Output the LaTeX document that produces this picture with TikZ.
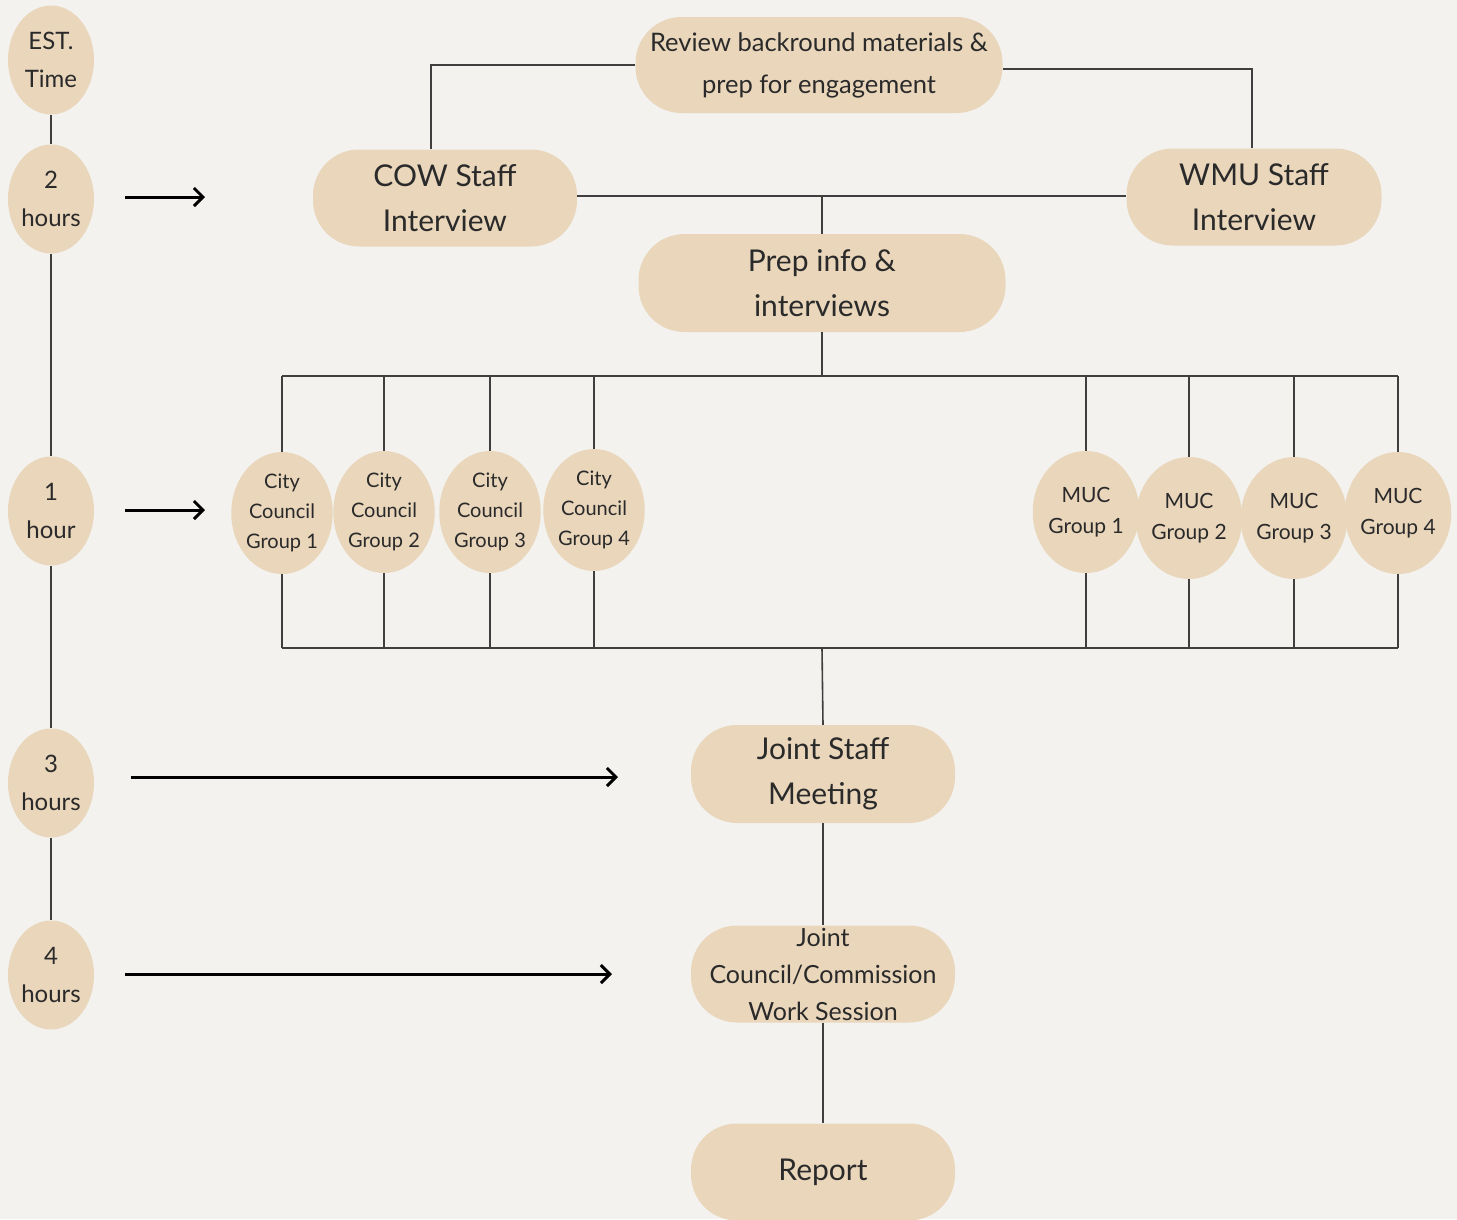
\documentclass[tikz,border=0pt]{standalone}
\usepackage{fontspec}
\setmainfont{Lato}
\usepackage{tikz}
\usetikzlibrary{positioning,arrows,arrows.meta,shapes.geometric,calc}
\definecolor{sand}{HTML}{E9D6BB}
\definecolor{paper}{HTML}{F3F2EE}
\definecolor{ink}{HTML}{2A2A2A}

\begin{document}
\begin{tikzpicture}
	[x=1pt,y=-1pt,
	pill/.style={rectangle,rounded corners=46pt,fill=sand,draw=none,align=center,text=ink,inner sep=0pt},
	oval/.style={ellipse,fill=sand,draw=none,align=center,text=ink,inner sep=0pt},
	timeoval/.style={oval,minimum width=86pt,minimum height=109pt,font=\fontsize{24}{38}\selectfont},
	groupoval/.style={oval,minimum width=98pt,minimum height=122pt,font=\fontsize{20}{30}\selectfont},
	link/.style={draw=ink!90,line width=1.6pt},
	timearrow/.style={-{Straight Barb[length=9pt,width=18pt,line width=3pt]},draw=black,line width=3pt}]
	\useasboundingbox[fill=paper] (0,0) rectangle (1457,1219);
	%TIME COLUMN
	\node[timeoval] (t0) at (51,60) {EST.\\Time};
	\node[timeoval] (t1) at (51,199) {2\\hours};
	\node[timeoval] (t2) at (51,511) {1\\hour};
	\node[timeoval] (t3) at (51,783) {3\\hours};
	\node[timeoval] (t4) at (51,975) {4\\hours};
	\foreach \x in {0,...,3}
	{
		\pgfmathtruncatemacro{\j}{\x+1}
		\path[link] (t\x.south) edge (t\j.north);
	};
	\coordinate (e1) at (205,197);
	\coordinate (e2) at (205,510);
	\coordinate (e3) at (618,777);
	\coordinate (e4) at (612,974);
	\draw[timearrow] ([xshift=31pt]t1.east |- e1) -- (e1);
	\draw[timearrow] ([xshift=31pt]t2.east |- e2) -- (e2);
	\draw[timearrow] ([xshift=37pt]t3.east |- e3) -- (e3);
	\draw[timearrow] ([xshift=31pt]t4.east |- e4) -- (e4);
	%LEVEL 0
	\node[pill,minimum width=367pt,minimum height=96pt,font=\fontsize{25.5}{42}\selectfont] (review) at (819,65) {Review backround materials \&\\prep for engagement};
	\node[pill,minimum width=264pt,minimum height=97pt,font=\fontsize{30}{45}\selectfont] (cow) at (445,198) {COW Staff\\Interview};
	\node[pill,minimum width=255pt,minimum height=97pt,font=\fontsize{30}{45}\selectfont] (wmu) at (1254,197) {WMU Staff\\Interview};
	\node[pill,minimum width=367pt,minimum height=98pt,font=\fontsize{30}{45}\selectfont] (prep) at (822,283) {Prep info \&\\interviews};
	\path[link] (review.west) -| ([xshift=-14pt]cow.north);
	\path[link] ([yshift=-4pt]review.east) -| ([xshift=-2pt]wmu.north);
	\path[link] ([yshift=2pt]cow.east) -- ([yshift=2pt]cow.east -| wmu.west);
	\coordinate (mid) at (822,196);
	\path[link] (mid) -- (prep.north);
	%LEVEL 1
	\node[groupoval] (cc1) at (282,513) {City\\Council\\Group 1};
	\node[groupoval] (cc2) at (384,512) {City\\Council\\Group 2};
	\node[groupoval] (cc3) at (490,512) {City\\Council\\Group 3};
	\node[groupoval] (cc4) at (594,510) {City\\Council\\Group 4};
	\node[groupoval,font=\fontsize{21}{31}\selectfont] (muc1) at (1086,512) {MUC\\Group 1};
	\node[groupoval,font=\fontsize{21}{31}\selectfont] (muc2) at (1189,518) {MUC\\Group 2};
	\node[groupoval,font=\fontsize{21}{31}\selectfont] (muc3) at (1294,518) {MUC\\Group 3};
	\node[groupoval,font=\fontsize{21}{31}\selectfont] (muc4) at (1398,513) {MUC\\Group 4};
	\coordinate (bustop) at (822,376);
	\coordinate (busbot) at (822,648);
	\path[link] (prep.south) -- (bustop);
	\path[link] (cc1.north |- bustop) -- (muc4.north |- bustop);
	\path[link] (cc1.south |- busbot) -- (muc4.south |- busbot);
	\foreach \n in {cc1,cc2,cc3,cc4,muc1,muc2,muc3,muc4}
	{
		\path[link] (\n.north) -- (\n.north |- bustop);
		\path[link] (\n.south) -- (\n.south |- busbot);
	};
	%LEVEL 2
	\node[pill,minimum width=264pt,minimum height=98pt,font=\fontsize{30}{45}\selectfont] (joint) at (823,774) {Joint Staff\\Meeting};
	\node[pill,minimum width=264pt,minimum height=97pt,font=\fontsize{25}{37}\selectfont] (session) at (823,974) {Joint\\Council/Commission\\Work Session};
	\node[pill,minimum width=264pt,minimum height=97pt,font=\fontsize{30}{45}\selectfont] (report) at (823,1172) {Report};
	\path[link] (busbot) -- (joint.north);
	\path[link] (joint.south) -- (session.north);
	\path[link] (session.south) -- (report.north);
\end{tikzpicture}
\end{document}
